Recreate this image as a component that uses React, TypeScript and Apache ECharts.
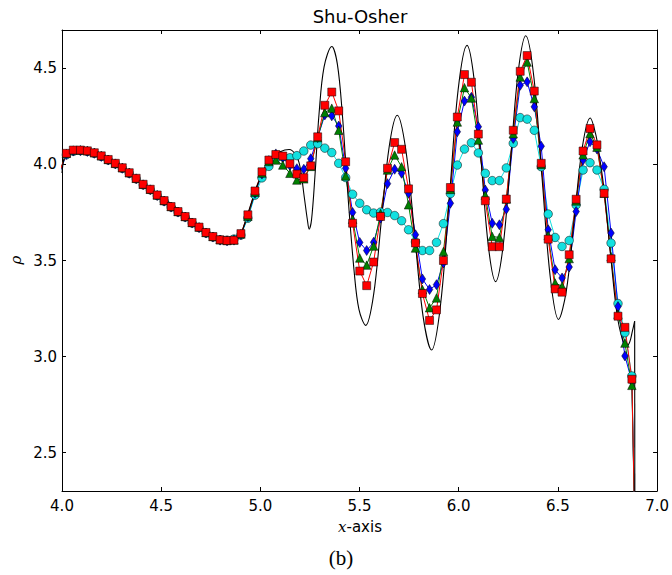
import { useEffect, useRef } from "react";
import * as echarts from "echarts";

// grid points of the numerical solutions (x)
const X_GRID = [
  3.987, 4.022, 4.057, 4.093, 4.128, 4.163, 4.198, 4.233, 4.269, 4.304,
  4.339, 4.374, 4.409, 4.445, 4.48, 4.515, 4.55, 4.585, 4.621, 4.656,
  4.691, 4.726, 4.761, 4.797, 4.832, 4.867, 4.902, 4.937, 4.973, 5.008,
  5.043, 5.078, 5.113, 5.149, 5.184, 5.219, 5.254, 5.289, 5.325, 5.36,
  5.395, 5.43, 5.465, 5.501, 5.536, 5.571, 5.606, 5.641, 5.677, 5.712,
  5.747, 5.782, 5.817, 5.853, 5.888, 5.923, 5.958, 5.993, 6.029, 6.064,
  6.099, 6.134, 6.169, 6.205, 6.24, 6.275, 6.31, 6.345, 6.381, 6.416,
  6.451, 6.486, 6.521, 6.557, 6.592, 6.627, 6.662, 6.697, 6.733, 6.768,
  6.803, 6.838, 6.873, 6.909,
];

const RHO_CYAN = [
  3.955, 4.05, 4.068, 4.072, 4.068, 4.058, 4.042, 4.023, 4.003, 3.98,
  3.954, 3.925, 3.894, 3.868, 3.838, 3.809, 3.778, 3.752, 3.726, 3.695,
  3.671, 3.643, 3.622, 3.608, 3.606, 3.612, 3.632, 3.72, 3.84, 3.93,
  3.99, 4.03, 4.04, 4.035, 4.046, 4.07, 4.101, 4.108, 4.085, 4.062,
  4.006, 3.932, 3.845, 3.798, 3.764, 3.747, 3.752, 3.75, 3.734, 3.707,
  3.66, 3.597, 3.552, 3.552, 3.594, 3.692, 3.848, 3.997, 4.08, 4.113,
  4.06, 3.954, 3.916, 3.916, 3.982, 4.11, 4.244, 4.236, 4.178, 3.988,
  3.742, 3.62, 3.573, 3.604, 3.789, 3.971, 4.009, 3.971, 3.871, 3.591,
  3.276, 3.124, 2.899, 1.0,
];

const RHO_BLUE = [
  3.955, 4.052, 4.07, 4.072, 4.068, 4.058, 4.042, 4.023, 4.003, 3.98,
  3.954, 3.925, 3.894, 3.868, 3.838, 3.809, 3.778, 3.752, 3.726, 3.695,
  3.671, 3.643, 3.622, 3.606, 3.602, 3.606, 3.635, 3.728, 3.85, 3.95,
  4.02, 4.055, 4.035, 3.995, 3.978, 3.975, 4.03, 4.14, 4.258, 4.253,
  4.2, 3.98, 3.75, 3.594, 3.552, 3.595, 3.72, 3.9, 3.975, 3.954,
  3.85, 3.634, 3.404, 3.349, 3.374, 3.487, 3.798, 4.17, 4.33, 4.35,
  4.196, 3.867, 3.694, 3.686, 3.767, 4.135, 4.412, 4.43, 4.3, 4.095,
  3.66, 3.452, 3.409, 3.466, 3.755, 4.023, 4.118, 4.08, 3.988, 3.643,
  3.26, 3.003, 2.87, 1.0,
];

const RHO_GREEN = [
  3.96, 4.058, 4.075, 4.075, 4.071, 4.061, 4.045, 4.026, 4.006, 3.983,
  3.957, 3.928, 3.897, 3.871, 3.841, 3.812, 3.781, 3.755, 3.729, 3.698,
  3.674, 3.646, 3.625, 3.608, 3.604, 3.607, 3.638, 3.73, 3.855, 3.955,
  4.015, 4.023, 3.997, 3.954, 3.919, 3.925, 3.99, 4.14, 4.27, 4.293,
  4.178, 3.94, 3.715, 3.513, 3.476, 3.575, 3.745, 3.971, 4.049, 3.988,
  3.79, 3.565, 3.349, 3.254, 3.305, 3.547, 3.87, 4.221, 4.4, 4.346,
  4.127, 3.84, 3.625, 3.62, 3.82, 4.16, 4.455, 4.533, 4.343, 4.0,
  3.63, 3.383, 3.366, 3.51, 3.81, 4.05, 4.161, 4.09, 3.85, 3.52,
  3.22, 3.07, 2.85, 1.0,
];

const RHO_RED = [
  3.96, 4.058, 4.075, 4.075, 4.071, 4.061, 4.045, 4.026, 4.006, 3.983,
  3.957, 3.928, 3.897, 3.871, 3.841, 3.812, 3.781, 3.755, 3.729, 3.698,
  3.674, 3.646, 3.625, 3.608, 3.604, 3.606, 3.64, 3.738, 3.862, 3.962,
  4.023, 4.052, 4.044, 4.004, 3.95, 3.931, 3.993, 4.144, 4.308, 4.377,
  4.279, 4.014, 3.694, 3.445, 3.369, 3.492, 3.729, 3.98, 4.114, 4.079,
  3.873, 3.591, 3.328, 3.188, 3.243, 3.5, 3.88, 4.247, 4.468, 4.428,
  4.158, 3.811, 3.572, 3.572, 3.82, 4.178, 4.485, 4.567, 4.382, 4.006,
  3.611, 3.352, 3.335, 3.53, 3.819, 4.07, 4.187, 4.102, 3.85, 3.509,
  3.21, 3.152, 2.882, 1.0,
];

// reference (fine-grid) solution, black line
const REF_X = [
  4.0, 4.008, 4.02, 4.04, 4.07, 4.1, 4.15, 4.2, 4.25, 4.3,
  4.35, 4.4, 4.45, 4.5, 4.55, 4.6, 4.65, 4.7, 4.75, 4.8,
  4.85, 4.88, 4.9, 4.92, 4.95, 4.98, 5.0, 5.03, 5.06, 5.1,
  5.145, 5.179, 5.2, 5.221, 5.237, 5.246, 5.258, 5.275, 5.296, 5.321,
  5.36, 5.388, 5.413, 5.442, 5.472, 5.497, 5.531, 5.571, 5.61, 5.65,
  5.69, 5.733, 5.777, 5.82, 5.863, 5.908, 5.953, 5.997, 6.042, 6.078,
  6.114, 6.15, 6.186, 6.224, 6.262, 6.3, 6.338, 6.379, 6.42, 6.462,
  6.503, 6.543, 6.583, 6.623, 6.663, 6.69, 6.71, 6.733, 6.768, 6.797,
  6.825, 6.847, 6.862, 6.875, 6.887,
];
const REF_RHO = [
  3.955, 4.02, 4.05, 4.066, 4.076, 4.078, 4.07, 4.05, 4.022, 3.986,
  3.948, 3.905, 3.868, 3.834, 3.795, 3.756, 3.714, 3.676, 3.638, 3.612,
  3.602, 3.608, 3.632, 3.69, 3.785, 3.88, 3.93, 3.993, 4.035, 4.066,
  4.078, 4.049, 3.988, 3.833, 3.712, 3.663, 3.712, 3.937, 4.265, 4.507,
  4.614, 4.524, 4.265, 3.833, 3.452, 3.245, 3.162, 3.322, 3.709, 4.096,
  4.256, 4.078, 3.645, 3.212, 3.034, 3.266, 3.827, 4.388, 4.62, 4.44,
  4.005, 3.57, 3.39, 3.577, 4.03, 4.483, 4.67, 4.454, 3.932, 3.409,
  3.193, 3.346, 3.718, 4.089, 4.242, 4.16, 4.04, 3.867, 3.504, 3.228,
  3.09, 3.055, 3.075, 3.13, 3.184,
];
const SHOCK_X = [6.887, 6.889];
const SHOCK_RHO = [3.184, 1.0];

const X_TICKS = [4.0, 4.5, 5.0, 5.5, 6.0, 6.5, 7.0];
const Y_TICKS = [2.5, 3.0, 3.5, 4.0, 4.5];

const pairs = (xs: number[], ys: number[]) => xs.map((x, i) => [x, ys[i]]);

function markerSeries(name: string, ys: number[], color: string, symbol: string, size: any) {
  return {
    type: "line",
    name,
    data: pairs(X_GRID, ys),
    xAxisIndex: 0,
    yAxisIndex: 0,
    symbol,
    symbolSize: size,
    showSymbol: true,
    showAllSymbol: true,
    clip: true,
    silent: true,
    lineStyle: { color, width: 1 },
    itemStyle: { color, borderColor: "#000", borderWidth: 0.5 },
  };
}

export default function App() {
  const ref = useRef<HTMLDivElement>(null);
  useEffect(() => {
    const chart = echarts.init(ref.current!, null, { renderer: "svg" });
    const tickFont = { fontFamily: "DejaVu Sans", fontSize: 15, color: "#000" };
    const axisLine = { show: true, onZero: false, lineStyle: { color: "#000", width: 1 } };
    const tick = { show: true, inside: true, length: 4, lineStyle: { color: "#000", width: 1 } };
    const option: any = {
      animation: false,
      backgroundColor: "#fff",
      grid: { left: 62, right: 13, top: 30, bottom: 84, containLabel: false },
      xAxis: [
        {
          type: "value", position: "bottom", min: 4, max: 7, interval: 0.5,
          axisLine, axisTick: { ...tick, customValues: X_TICKS }, splitLine: { show: false },
          axisLabel: { ...tickFont, margin: 7, customValues: X_TICKS, formatter: (v: number) => v.toFixed(1) },
        },
        {
          type: "value", position: "top", min: 4, max: 7, interval: 0.5,
          axisLine, axisTick: { ...tick, customValues: X_TICKS }, splitLine: { show: false },
          axisLabel: { show: false },
        },
      ],
      yAxis: [
        {
          type: "value", position: "left", min: 2.3, max: 4.7,
          axisLine, axisTick: { ...tick, customValues: Y_TICKS }, splitLine: { show: false },
          axisLabel: { ...tickFont, margin: 5, customValues: Y_TICKS, formatter: (v: number) => v.toFixed(1) },
        },
        {
          type: "value", position: "right", min: 2.3, max: 4.7,
          axisLine, axisTick: { ...tick, customValues: Y_TICKS }, splitLine: { show: false },
          axisLabel: { show: false },
        },
      ],
      series: [
        markerSeries("cyan", RHO_CYAN, "#12e0e0", "circle", 8.5),
        markerSeries("blue", RHO_BLUE, "#0000ff", "diamond", [6.5, 10]),
        markerSeries("green", RHO_GREEN, "#008000", "triangle", 8.5),
        markerSeries("red", RHO_RED, "#ff0000", "rect", 8),
        {
          type: "line", name: "reference", data: pairs(REF_X, REF_RHO),
          symbol: "none", smooth: 0.35, clip: true, silent: true,
          lineStyle: { color: "#000", width: 1.1 },
        },
        {
          type: "line", name: "shock", data: pairs(SHOCK_X, SHOCK_RHO),
          symbol: "none", clip: true, silent: true,
          lineStyle: { color: "#000", width: 1.1 },
        },
      ],
      graphic: [
        {
          type: "text", x: 360, y: 16,
          style: { text: "Shu-Osher", fontFamily: "DejaVu Sans", fontSize: 18, fill: "#000", align: "center", verticalAlign: "middle" },
        },
        {
          type: "text", x: 360, y: 527,
          style: {
            text: "{i|x}{n|-axis}", align: "center", verticalAlign: "middle",
            rich: {
              i: { fontFamily: "DejaVu Serif", fontStyle: "italic", fontSize: 15, fill: "#000" },
              n: { fontFamily: "DejaVu Sans", fontSize: 15, fill: "#000" },
            },
          },
        },
        {
          type: "text", x: 16, y: 260, rotation: Math.PI / 2,
          style: { text: "ρ", fontFamily: "DejaVu Serif", fontStyle: "italic", fontSize: 15, fill: "#000", align: "center", verticalAlign: "middle" },
        },
        {
          type: "text", x: 341, y: 558,
          style: { text: "(b)", fontFamily: "Liberation Serif", fontSize: 21, fill: "#000", align: "center", verticalAlign: "middle" },
        },
      ],
    };
    chart.setOption(option);
    return () => chart.dispose();
  }, []);
  return (
    <div
      ref={ref}
      style={{ position: "fixed", left: 0, top: 0, width: 672, height: 575, background: "#fff" }}
    />
  );
}
